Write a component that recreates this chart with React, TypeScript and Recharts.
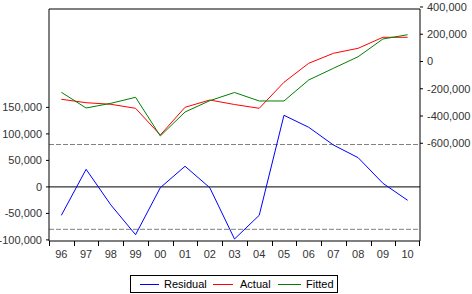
import React from 'react';
import { ComposedChart, Line, XAxis, YAxis, ReferenceLine } from 'recharts';

const years = ['96', '97', '98', '99', '00', '01', '02', '03', '04', '05', '06', '07', '08', '09', '10'];
const residual = [-53600, 33200, -34000, -90200, -1500, 38900, -1500, -98300, -53600, 135100, 112500, 79000, 55100, 6800, -25300];
const actual = [-277300, -302300, -314000, -343400, -539300, -336000, -282500, -315500, -343400, -152600, -13200, 60200, 96900, 177600, 177600];
const fitted = [-226000, -341200, -306700, -262700, -546600, -370500, -287600, -227400, -289800, -289800, -135700, -49900, 35200, 165100, 196600];
const leftTicks = [-100000, -50000, 0, 50000, 100000, 150000];
const rightTicks = [-600000, -400000, -200000, 0, 200000, 400000];
const seBand = 80000;
const leftDomain = [-102080, 335660];
const rightDomain = [-1317000, 385200];

const data = years.map((y, i) => ({ year: y, residual: residual[i], actual: actual[i], fitted: fitted[i] }));

const W = 472;
const H = 294;
const PLOT_LEFT = 49;
const PLOT_RIGHT = 420;
const PLOT_TOP = 9;
const PLOT_BOTTOM = 241;
const BW = (PLOT_RIGHT - PLOT_LEFT) / years.length;
const FONT = '"Liberation Sans", Arial, sans-serif';
const TXT = '#333';

const fmt = (v: number) => v.toLocaleString('en-US');

function XTick(props: any) {
  const { x, y, payload, index } = props;
  const lx = Math.round(x - BW / 2) + 0.5;
  const rx = Math.round(x + BW / 2) - 0.5;
  return (
    <g>
      <line x1={lx} x2={lx} y1={PLOT_BOTTOM} y2={PLOT_BOTTOM + 5} stroke="#000" />
      {index === years.length - 1 && (
        <line x1={rx} x2={rx} y1={PLOT_BOTTOM} y2={PLOT_BOTTOM + 5} stroke="#000" />
      )}
      <text x={x} y={y} dy="0.71em" textAnchor="middle" fontSize={11} fill={TXT} fontFamily={FONT}>
        {payload.value}
      </text>
    </g>
  );
}

export default function App() {
  const legendItem = (left: number, color: string, lineW: number, textLeft: number, label: string) => (
    <React.Fragment key={label}>
      <div style={{ position: 'absolute', left, top: 8, width: lineW, height: 1, background: color }} />
      <div style={{ position: 'absolute', left: textLeft, top: 1, fontSize: 11, lineHeight: '14px', color: '#000', fontFamily: FONT }}>
        {label}
      </div>
    </React.Fragment>
  );
  return (
    <div style={{ position: 'absolute', left: 0, top: 0, width: W, height: H, background: '#fff' }}>
      <ComposedChart width={W} height={H} data={data} margin={{ top: PLOT_TOP, right: 0, bottom: 0, left: 0 }}>
        <XAxis
          xAxisId="bottom"
          dataKey="year"
          scale="band"
          height={H - PLOT_BOTTOM}
          interval={0}
          tickLine={false}
          tickSize={5}
          tickMargin={4}
          axisLine={{ stroke: '#000' }}
          tick={<XTick />}
        />
        <YAxis
          yAxisId="left"
          width={PLOT_LEFT}
          domain={leftDomain}
          allowDataOverflow
          ticks={leftTicks}
          interval={0}
          tickSize={3}
          tickMargin={4}
          tickFormatter={fmt}
          axisLine={{ stroke: '#000' }}
          tickLine={{ stroke: '#000' }}
          tick={{ fontSize: 11, fill: TXT, fontFamily: FONT }}
        />
        <YAxis
          yAxisId="right"
          orientation="right"
          width={W - PLOT_RIGHT}
          domain={rightDomain}
          allowDataOverflow
          ticks={rightTicks}
          interval={0}
          tickSize={3}
          tickMargin={4}
          tickFormatter={fmt}
          axisLine={{ stroke: '#000' }}
          tickLine={{ stroke: '#000' }}
          tick={{ fontSize: 11, fill: TXT, fontFamily: FONT }}
        />
        <ReferenceLine xAxisId="bottom" yAxisId="left" y={leftDomain[1]} stroke="#000" />
        <ReferenceLine xAxisId="bottom" yAxisId="left" y={seBand} stroke="#808080" strokeDasharray="5 2" />
        <ReferenceLine xAxisId="bottom" yAxisId="left" y={-seBand} stroke="#808080" strokeDasharray="5 2" />
        <ReferenceLine xAxisId="bottom" yAxisId="left" y={0} stroke="#000" />
        <Line xAxisId="bottom" yAxisId="left" dataKey="residual" stroke="#0000ff" strokeWidth={1} dot={false} isAnimationActive={false} />
        <Line xAxisId="bottom" yAxisId="right" dataKey="actual" stroke="#ff0000" strokeWidth={1} dot={false} isAnimationActive={false} />
        <Line xAxisId="bottom" yAxisId="right" dataKey="fitted" stroke="#008000" strokeWidth={1} dot={false} isAnimationActive={false} />
      </ComposedChart>
      <div style={{ position: 'absolute', left: 130, top: 275, width: 208, height: 18, border: '1px solid #000', boxSizing: 'border-box' }}>
        {legendItem(9, '#0000ff', 19, 33, 'Residual')}
        {legendItem(82, '#ff0000', 20, 109, 'Actual')}
        {legendItem(147, '#008000', 23, 175, 'Fitted')}
      </div>
    </div>
  );
}
